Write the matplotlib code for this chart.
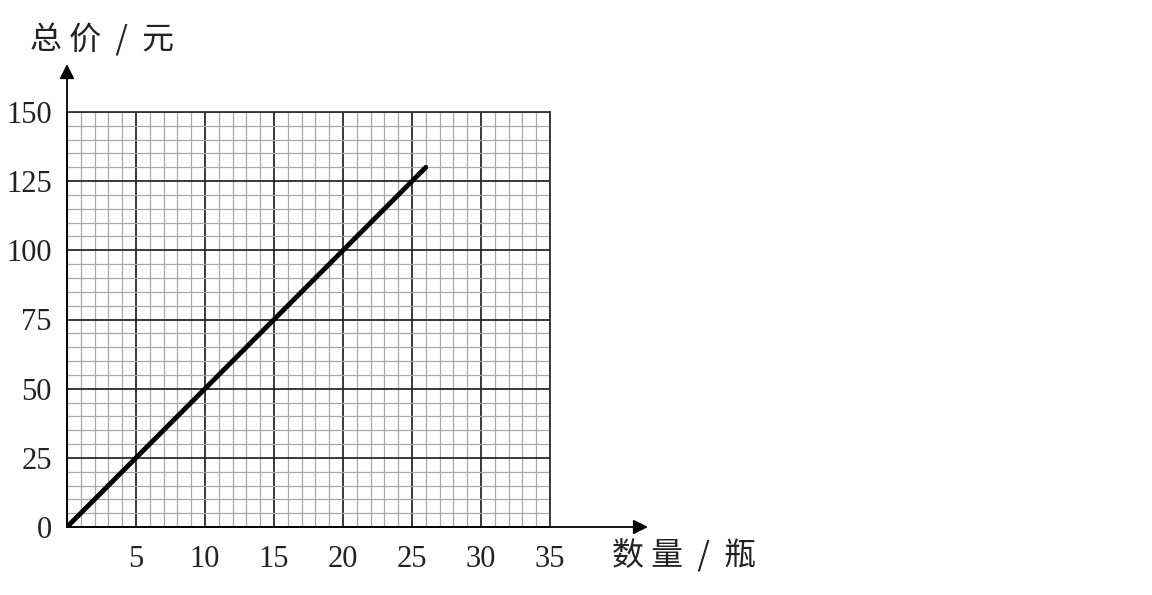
import matplotlib
matplotlib.use("Agg")
import matplotlib.pyplot as plt
import numpy as np

quantity = [0, 26]
total = [0, 130]
x_ticks = [5, 10, 15, 20, 25, 30, 35]
y_ticks = [0, 25, 50, 75, 100, 125, 150]
x_label = "数 量  /  瓶"
y_label = "总 价  /  元"

fig = plt.figure(figsize=(11.52, 5.95), dpi=100)
ax = fig.add_axes([67/1152, 1-527/595, (550-67)/1152, (527-112)/595])
ax.set_xlim(0, 35)
ax.set_ylim(0, 150)

ax.set_xticks(np.arange(0, 36, 1), minor=True)
ax.set_yticks(np.arange(0, 151, 5), minor=True)
ax.set_xticks(x_ticks)
ax.set_yticks(y_ticks)
ax.grid(which="minor", color="#a8a8a8", lw=0.9)
ax.grid(which="major", color="#2a2a2a", lw=1.3)
ax.set_axisbelow(True)
serif = "Liberation Serif"
ax.set_xticklabels([str(v) for v in x_ticks], fontfamily=serif, fontsize=22, color="#222")
ax.set_yticklabels([str(v) for v in y_ticks], fontfamily=serif, fontsize=22, color="#222")
ax.tick_params(which="both", length=0)
ax.tick_params(axis="x", pad=13)
ax.tick_params(axis="y", pad=11)
for s in ax.spines.values():
    s.set_color("#333")
    s.set_linewidth(1.3)

ax.plot(quantity, total, color="black", lw=3.5, solid_capstyle="round", zorder=5)

# axis arrows
ax.annotate("", xy=(648/1152, 1-527/595), xytext=(67/1152, 1-527/595), xycoords="figure fraction",
            arrowprops=dict(arrowstyle="-|>", color="black", lw=1.3, mutation_scale=22, shrinkA=0, shrinkB=0))
ax.annotate("", xy=(67/1152, 1-64/595), xytext=(67/1152, 1-527/595), xycoords="figure fraction",
            arrowprops=dict(arrowstyle="-|>", color="black", lw=1.3, mutation_scale=22, shrinkA=0, shrinkB=0))

cjk = ["Noto Sans CJK SC", "DejaVu Sans"]
fig.text(30/1152, 1-40/595, y_label, fontfamily=cjk, fontsize=23, va="center", ha="left", color="#222")
fig.text(612/1152, 1-556/595, x_label, fontfamily=cjk, fontsize=23, va="center", ha="left", color="#222")

fig.savefig("out.png", dpi=100)
